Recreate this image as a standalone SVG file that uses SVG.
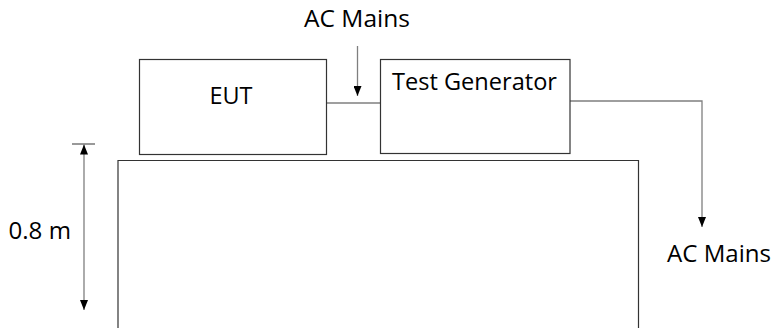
<svg xmlns="http://www.w3.org/2000/svg" width="774" height="336" viewBox="0 0 774 336">
<style>
.box{fill:#fff;stroke:#333;stroke-width:1.2}
.line{fill:none;stroke:#7f7f7f;stroke-width:1.3}
.lbl{font-family:"Open Sans","Liberation Sans",sans-serif;font-size:23px;fill:#000}
</style>
<defs>
<marker id="ad" viewBox="0 0 10 8" refX="10" refY="4" markerWidth="10" markerHeight="8" markerUnits="userSpaceOnUse" orient="auto-start-reverse">
<path d="M0,0 L10,4 L0,8 Z" fill="#000"/>
</marker>
</defs>
<g id="table">
<path class="box" d="M118,328 V160.5 H638.5 V328" style="fill:none"/>
</g>
<g id="connectors">
<line class="line" x1="327" y1="103" x2="380.5" y2="103"/>
<path class="line" d="M570,101 H702 V227" marker-end="url(#ad)"/>
<line class="line" x1="357.5" y1="46" x2="357.5" y2="96" marker-end="url(#ad)"/>
<line class="line" x1="84" y1="144.5" x2="84" y2="310" marker-start="url(#ad)" marker-end="url(#ad)"/>
<line stroke="#555" stroke-width="1.2" x1="72" y1="144" x2="95" y2="144"/>
</g>
<g id="eut">
<rect class="box" x="139.5" y="59.5" width="187" height="95"/>
<text class="lbl" x="231" y="104" text-anchor="middle" textLength="43" lengthAdjust="spacingAndGlyphs">EUT</text>
</g>
<g id="test-generator">
<rect class="box" x="380.5" y="59.5" width="189.5" height="94"/>
<text class="lbl" x="392" y="90" textLength="165" lengthAdjust="spacingAndGlyphs">Test Generator</text>
</g>
<g id="ac-mains-top">
<text class="lbl" x="304" y="27" textLength="106" lengthAdjust="spacingAndGlyphs">AC Mains</text>
</g>
<g id="ac-mains-right">
<text class="lbl" x="667" y="262" textLength="104" lengthAdjust="spacingAndGlyphs">AC Mains</text>
</g>
<g id="height-label">
<text class="lbl" x="8.5" y="239" textLength="62.5" lengthAdjust="spacingAndGlyphs">0.8 m</text>
</g>
</svg>
